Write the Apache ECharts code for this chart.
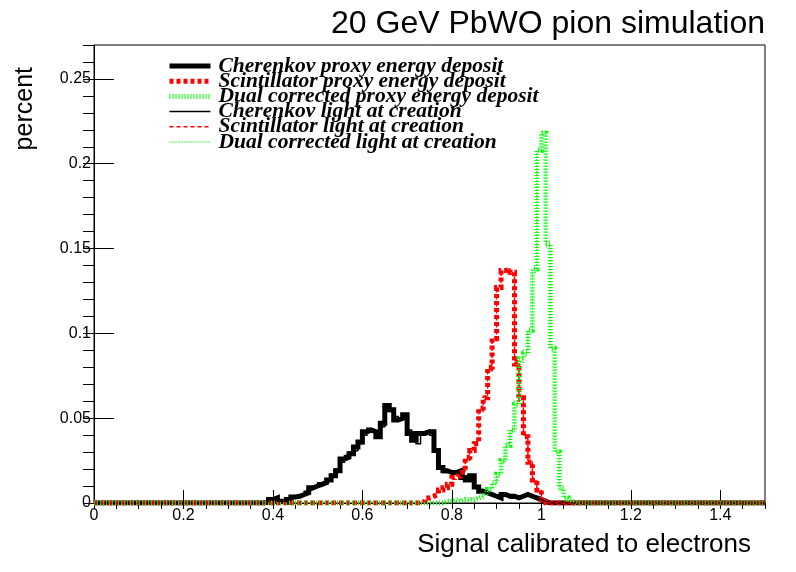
<!DOCTYPE html>
<html>
<head>
<meta charset="utf-8">
<script src="https://cdn.jsdelivr.net/npm/echarts@6/dist/echarts.min.js"></script>
<style>
html, body { margin: 0; padding: 0; background: #fff; }
#main { width: 796px; height: 572px; }
</style>
</head>
<body>
<div id="main"></div>
<script>
// bin width 0.01, 150 bins over [0, 1.5]
var binWidth = 0.01;
var nBins = 150;

// each histogram: first non-empty bin index + bin contents
var cherProxyStart = 38;
var cherProxy = [0.0005, 0.002, 0.003, 0.001, 0.0005, 0.002, 0.0035, 0.004, 0.005, 0.006,
  0.009, 0.010, 0.011, 0.012, 0.0135, 0.016, 0.019, 0.026, 0.027, 0.029,
  0.033, 0.036, 0.042, 0.043, 0.042, 0.039, 0.047, 0.0575, 0.055, 0.049,
  0.050, 0.052, 0.041, 0.037, 0.041, 0.041, 0.042, 0.042, 0.031, 0.021,
  0.019, 0.018, 0.018, 0.019, 0.015, 0.0135, 0.016, 0.0094, 0.007, 0.006,
  0.005, 0.004, 0.003, 0.005, 0.004, 0.004, 0.003, 0.004, 0.005, 0.004,
  0.003, 0.002, 0.001];

var scintProxyStart = 73;
var scintProxy = [0.001, 0.003, 0.004, 0.005, 0.0076, 0.009, 0.011, 0.015, 0.016, 0.018,
  0.027, 0.031, 0.035, 0.056, 0.062, 0.080, 0.097, 0.127, 0.137, 0.138,
  0.136, 0.082, 0.062, 0.039, 0.024, 0.0135, 0.0076, 0.002];

var dualProxyStart = 78;
var dualProxy = [0.001, 0.001, 0.002, 0.001, 0.002, 0.002, 0.002, 0.003, 0.004, 0.006,
  0.008, 0.012, 0.017, 0.025, 0.034, 0.043, 0.058, 0.085, 0.088, 0.102,
  0.138, 0.208, 0.218, 0.153, 0.091, 0.030, 0.009, 0.003, 0.001];

var cherLightStart = 38;
var cherLight = [0.0005, 0.002, 0.003, 0.001, 0.0005, 0.002, 0.003, 0.004, 0.005, 0.007,
  0.008, 0.010, 0.012, 0.013, 0.014, 0.017, 0.020, 0.024, 0.028, 0.030,
  0.031, 0.035, 0.040, 0.044, 0.043, 0.041, 0.045, 0.056, 0.054, 0.051,
  0.049, 0.050, 0.043, 0.039, 0.035, 0.042, 0.043, 0.040, 0.030, 0.022,
  0.018, 0.019, 0.017, 0.018, 0.016, 0.014, 0.015, 0.010, 0.008, 0.006,
  0.005, 0.004, 0.004, 0.004, 0.005, 0.003, 0.004, 0.004, 0.004, 0.005,
  0.003, 0.002, 0.001];

var scintLightStart = 73;
var scintLight = [0.001, 0.002, 0.004, 0.006, 0.007, 0.009, 0.012, 0.014, 0.017, 0.019,
  0.025, 0.032, 0.037, 0.054, 0.063, 0.078, 0.095, 0.125, 0.136, 0.138,
  0.135, 0.084, 0.060, 0.040, 0.025, 0.013, 0.007, 0.002];

var dualLightStart = 78;
var dualLight = [0.001, 0.002, 0.001, 0.002, 0.001, 0.002, 0.003, 0.003, 0.004, 0.005,
  0.009, 0.011, 0.018, 0.024, 0.035, 0.042, 0.060, 0.083, 0.090, 0.100,
  0.136, 0.207, 0.219, 0.151, 0.092, 0.031, 0.008, 0.003, 0.001];

var seriesNames = ['Cherenkov proxy energy deposit', 'Scintillator proxy energy deposit',
  'Dual corrected proxy energy deposit', 'Cherenkov light at creation',
  'Scintillator light at creation', 'Dual corrected light at creation'];
var seriesColors = ['#000000', '#ff0000', '#00ff00', '#000000', '#ff0000', '#00ff00'];
var seriesWidths = [5, 5, 5, 1.5, 1.5, 1.5];
var seriesDashes = ['solid', [4, 3], [1, 2], 'solid', [4, 3], [1, 2]];

// step histogram points: left edge of each bin, plus closing point at the upper edge
function histPoints(start, values) {
  var pts = [];
  for (var i = 0; i < nBins; i++) {
    var v = (i >= start && i - start < values.length) ? values[i - start] : 0;
    pts.push([+(i * binWidth).toFixed(2), v]);
  }
  pts.push([+(nBins * binWidth).toFixed(2), 0]);
  return pts;
}

function histSeries(k, start, values) {
  return {
    name: seriesNames[k],
    type: 'line',
    step: 'end',
    symbol: 'none',
    showSymbol: false,
    animation: false,
    z: 2 + k,
    data: histPoints(start, values),
    lineStyle: { color: seriesColors[k], width: seriesWidths[k], type: seriesDashes[k], cap: 'butt', join: 'miter' }
  };
}

var legendData = seriesNames.map(function (n, k) {
  return {
    name: n,
    itemStyle: { opacity: 0 },
    lineStyle: { color: seriesColors[k], width: seriesWidths[k], type: seriesDashes[k] }
  };
});

var myChart = echarts.init(document.getElementById('main'));

var tickFont = { color: '#000', fontSize: 16, fontFamily: 'Liberation Sans' };

option = {
  backgroundColor: '#fff',
  animation: false,
  title: {
    text: '20 GeV PbWO pion simulation',
    right: 31,
    top: 8,
    padding: 0,
    textStyle: { color: '#000', fontSize: 32, fontWeight: 'normal', fontFamily: 'Liberation Sans' }
  },
  legend: {
    orient: 'vertical',
    left: 167,
    top: 55,
    padding: 0,
    itemWidth: 41,
    itemHeight: 15,
    itemGap: -6.8,
    selectedMode: false,
    itemStyle: { opacity: 0 },
    data: legendData,
    textStyle: {
      color: '#000', fontSize: 21.5, lineHeight: 15, fontStyle: 'italic', fontWeight: 'bold',
      fontFamily: 'Liberation Serif', padding: [0, 0, 0, 3]
    }
  },
  graphic: [{
    type: 'text',
    x: 13,
    y: 67,
    rotation: Math.PI / 2,
    style: {
      text: 'percent', fill: '#000', fontSize: 25, fontFamily: 'Liberation Sans',
      textAlign: 'right', textVerticalAlign: 'top'
    }
  }],
  grid: {
    left: 94, right: 31, top: 45, bottom: 69,
    outerBoundsMode: 'none',
    containLabel: false,
    show: true, borderColor: '#000', borderWidth: 1
  },
  xAxis: [
    {
      type: 'value', min: 0, max: 1.5, interval: 0.2,
      name: 'Signal calibrated to electrons',
      nameLocation: 'end',
      nameGap: -14,
      nameTextStyle: {
        color: '#000', fontSize: 26, fontFamily: 'Liberation Sans',
        align: 'right', verticalAlign: 'top', padding: [29, 0, 0, 0]
      },
      axisLine: { lineStyle: { color: '#000', width: 1 } },
      axisTick: { inside: true, length: 13, lineStyle: { color: '#000' } },
      axisLabel: Object.assign({ margin: 5, showMaxLabel: false }, tickFont),
      splitLine: { show: false }
    },
    {
      type: 'value', min: 0, max: 1.5, interval: 0.05,
      axisLine: { show: false },
      axisTick: { inside: true, length: 6, lineStyle: { color: '#000' } },
      axisLabel: { show: false },
      splitLine: { show: false }
    }
  ],
  yAxis: [
    {
      type: 'value', min: 0, max: 0.27, interval: 0.05,
      axisLine: { lineStyle: { color: '#000', width: 1 } },
      axisTick: { inside: true, length: 20, lineStyle: { color: '#000' } },
      axisLabel: Object.assign({ margin: 3, showMaxLabel: false }, tickFont),
      splitLine: { show: false }
    },
    {
      type: 'value', min: 0, max: 0.27, interval: 0.01,
      axisLine: { show: false },
      axisTick: { inside: true, length: 11, lineStyle: { color: '#000' } },
      axisLabel: { show: false },
      splitLine: { show: false }
    }
  ],
  series: [
    histSeries(0, cherProxyStart, cherProxy),
    histSeries(1, scintProxyStart, scintProxy),
    histSeries(2, dualProxyStart, dualProxy),
    histSeries(3, cherLightStart, cherLight),
    histSeries(4, scintLightStart, scintLight),
    histSeries(5, dualLightStart, dualLight)
  ]
};

myChart.setOption(option);
</script>
</body>
</html>
